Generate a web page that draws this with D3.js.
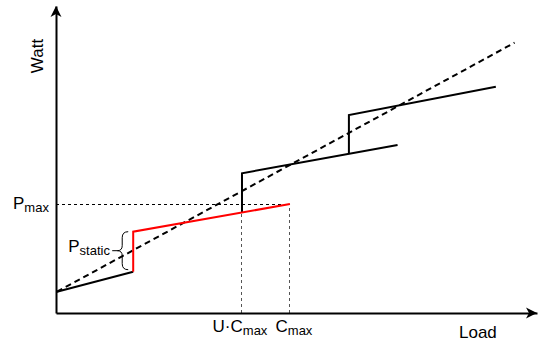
<!DOCTYPE html>
<meta charset="utf-8">

<!-- Load d3.js -->
<script src="https://d3js.org/d3.v7.min.js"></script>
<style>body { margin: 0; }</style>

<div id="my_dataviz"></div>
<script>

// values (load units on x, watt units on y)
var capMax = 10, uCapMax = 7.95, pMax = 10;
var xMax = 20.56, yMax = 28.17;

// power curves: one server, then the step when more servers join
var firstLine = [[0.04, 1.95], [3.3, 3.79]];
var redLine   = [[3.3, 3.79], [3.3, 7.46], [10, 10]];
var midLine   = [[7.95, 9.22], [7.95, 12.82], [14.6, 15.41]];
var topLine   = [[12.52, 14.6], [12.52, 18.17], [18.8, 20.76]];
var idealLine = [[0.04, 1.95], [19.6, 24.8]];

// brace around the static power step
var braceRange = [3.79, 7.46];

// set the dimensions and margins of the graph
var margin = {top: 6, right: 2, bottom: 29, left: 56},
    width = 539 - margin.left - margin.right,
    height = 342 - margin.top - margin.bottom;

var svg = d3.select("#my_dataviz")
  .append("svg")
    .attr("width", 539)
    .attr("height", 342)
    .style("font-family", "'Liberation Sans', Arial, Helvetica, sans-serif")
  .append("g")
    .attr("transform", "translate(" + margin.left + "," + margin.top + ")");

var x = d3.scaleLinear().domain([0, xMax]).range([0, width]);
var y = d3.scaleLinear().domain([0, yMax]).range([height, 0]);

var line = d3.line()
    .x(function(d) { return x(d[0]); })
    .y(function(d) { return y(d[1]); });

// dotted guides
svg.append("line")
    .attr("x1", x(0)).attr("x2", x(capMax))
    .attr("y1", y(pMax)).attr("y2", y(pMax))
    .attr("stroke", "black").attr("stroke-width", 1)
    .attr("shape-rendering", "crispEdges")
    .attr("stroke-dasharray", "3,3");
svg.append("line")
    .attr("x1", x(uCapMax)).attr("x2", x(uCapMax))
    .attr("y1", y(0)).attr("y2", y(9.22))
    .attr("stroke", "#555").attr("stroke-width", 1)
    .attr("shape-rendering", "crispEdges")
    .attr("stroke-dasharray", "3,3");
svg.append("line")
    .attr("x1", x(capMax)).attr("x2", x(capMax))
    .attr("y1", y(0)).attr("y2", y(pMax))
    .attr("stroke", "#555").attr("stroke-width", 1)
    .attr("shape-rendering", "crispEdges")
    .attr("stroke-dasharray", "3,3");

// ideal proportional line
svg.append("path")
    .datum(idealLine)
    .attr("d", line)
    .attr("fill", "none")
    .attr("stroke", "black")
    .attr("stroke-width", 2)
    .attr("stroke-dasharray", "6,4");

// solid curves
[firstLine, midLine, topLine].forEach(function(pts) {
  svg.append("path")
      .datum(pts)
      .attr("d", line)
      .attr("fill", "none")
      .attr("stroke", "black")
      .attr("stroke-width", 2);
});
svg.append("path")
    .datum(redLine)
    .attr("d", line)
    .attr("fill", "none")
    .attr("stroke", "#ff0000")
    .attr("stroke-width", 2);

// axes (no ticks, just the lines) + arrow heads
svg.append("g")
    .attr("transform", "translate(0," + height + ")")
    .call(d3.axisBottom(x).tickValues([]).tickSizeOuter(0))
    .select(".domain").attr("stroke-width", 2);
svg.append("g")
    .call(d3.axisLeft(y).tickValues([]).tickSizeOuter(0))
    .select(".domain").attr("stroke-width", 2);

var xe = x(xMax), yb = y(0), ye = y(yMax);
svg.append("path")
    .attr("d", "M" + xe + "," + yb + "L" + (xe - 11) + "," + (yb - 5.5) +
               "L" + (xe - 8) + "," + yb + "L" + (xe - 11) + "," + (yb + 5.5) + "Z")
    .attr("fill", "black");
svg.append("path")
    .attr("d", "M0," + ye + "L-5.5," + (ye + 11) + "L0," + (ye + 8) + "L5.5," + (ye + 11) + "Z")
    .attr("fill", "black");

// brace for P_static
var bx = x(3.3) - 5, b0 = y(braceRange[1]), b1 = y(braceRange[0]) - 2, bm = (b0 + b1) / 2;
svg.append("path")
    .attr("d", "M" + bx + "," + b0 + " Q" + (bx - 6) + "," + b0 + " " + (bx - 6) + "," + (b0 + 6) +
               " L" + (bx - 6) + "," + (bm - 5) + " Q" + (bx - 6) + "," + bm + " " + (bx - 11) + "," + bm +
               " Q" + (bx - 6) + "," + bm + " " + (bx - 6) + "," + (bm + 5) +
               " L" + (bx - 6) + "," + (b1 - 6) + " Q" + (bx - 6) + "," + b1 + " " + bx + "," + b1)
    .attr("fill", "none").attr("stroke", "black").attr("stroke-width", 1);
svg.append("line")
    .attr("x1", bx - 16).attr("x2", bx - 11)
    .attr("y1", bm).attr("y2", bm)
    .attr("stroke", "black").attr("stroke-width", 1);

// labels with subscripts
function label(px, py, main, sub, anchor) {
  var t = svg.append("text")
      .attr("x", px).attr("y", py)
      .style("font-size", "17px")
      .style("text-anchor", anchor || "start");
  t.append("tspan").text(main);
  t.append("tspan").attr("dy", 3).style("font-size", "13px").text(sub);
  return t;
}
label(-43, y(pMax) + 5, "P", "max");
label(bx - 60, bm + 1, "P", "static");
label(x(uCapMax) - 2, height + 19, "U\u00b7C", "max", "middle");
label(x(capMax) + 4, height + 19, "C", "max", "middle");

svg.append("text")
    .attr("x", 403).attr("y", height + 25)
    .style("font-size", "17px")
    .text("Load");
svg.append("text")
    .attr("transform", "translate(-13," + 50 + ") rotate(-90)")
    .style("font-size", "17px")
    .style("text-anchor", "middle")
    .text("Watt");

</script>
